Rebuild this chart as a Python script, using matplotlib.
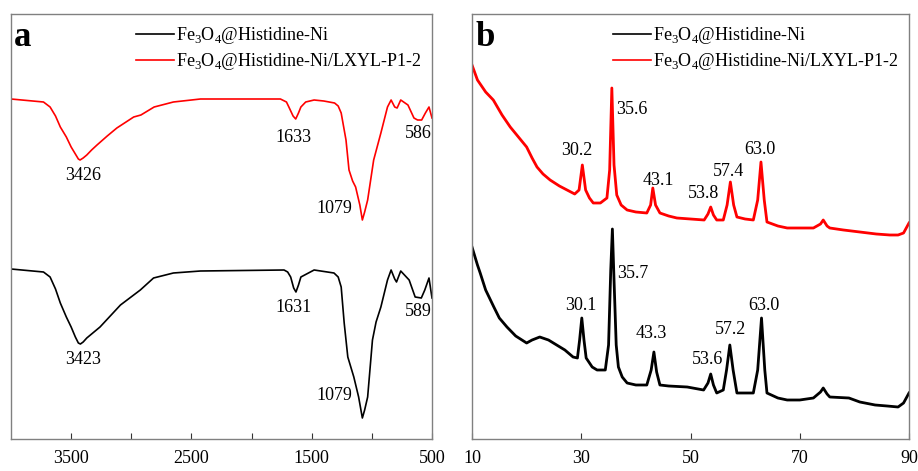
import matplotlib
matplotlib.use("Agg")
import matplotlib.pyplot as plt
from matplotlib.lines import Line2D

plt.rcParams['font.family'] = ['Liberation Serif', 'DejaVu Serif']
plt.rcParams['mathtext.fontset'] = 'custom'
plt.rcParams['mathtext.rm'] = 'Liberation Serif'

# ---------------- FTIR data (panel a) ----------------
ftir_red_wn = [4000, 3730, 3675, 3630, 3590, 3540, 3500, 3465, 3440, 3426, 3400, 3370, 3330, 3285,
               3200, 3120, 2980, 2920, 2810, 2650, 2425, 2000, 1760, 1710, 1690, 1655, 1633, 1610,
               1590, 1550, 1480, 1400, 1310, 1280, 1255, 1215, 1190, 1160, 1135, 1100, 1079, 1060,
               1035, 985, 925, 870, 840, 810, 790, 760, 700, 650, 620, 586, 555, 525, 500]
ftir_red_t = [340, 337, 332, 323, 312, 302, 292, 285, 280, 279, 281, 284, 289, 294,
              303, 311, 322, 324, 332, 337, 340, 340, 340, 337, 332, 323, 320, 326,
              332, 337, 339, 338, 336, 333, 326, 299, 269, 258, 252, 234, 219, 227,
              239, 279, 306, 332, 339, 332, 331, 339, 334, 321, 319, 319, 326, 332, 321]

ftir_blk_wn = [4000, 3730, 3675, 3630, 3590, 3540, 3500, 3465, 3440, 3423, 3400, 3370, 3340, 3260,
               3090, 2925, 2815, 2650, 2425, 1730, 1700, 1675, 1650, 1631, 1610, 1590, 1480, 1315,
               1280, 1255, 1230, 1200, 1150, 1110, 1079, 1060, 1035, 995, 965, 925, 870, 840, 810,
               795, 760, 690, 640, 589, 560, 525, 500]
ftir_blk_t = [170, 167, 162, 150, 136, 122, 112, 102, 96, 95, 97, 101, 104, 112,
              134, 149, 161, 166, 168, 169, 167, 162, 151, 147, 154, 162, 169, 166,
              162, 152, 116, 82, 62, 42, 21, 29, 42, 99, 117, 132, 159, 169, 160,
              157, 168, 159, 142, 141, 149, 161, 141]

ftir_red_labels = ["3426", "1633", "1079", "586"]
ftir_red_lab_x = [3400, 1650, 1315, 617]
ftir_red_lab_y = [264, 302, 231, 306]
ftir_blk_labels = ["3423", "1631", "1079", "589"]
ftir_blk_lab_x = [3400, 1650, 1315, 617]
ftir_blk_lab_y = [79, 132, 43, 127]

# ---------------- XRD data (panel b) ----------------
xrd_red_2t = [10.0, 11.0, 12.5, 13.9, 15.5, 17.0, 18.5, 20.0, 21.0, 21.9, 23.0, 24.3, 26.0, 27.4,
              28.8, 29.6, 30.2, 30.8, 31.5, 32.2, 33.5, 34.7, 35.2, 35.6, 36.0, 36.5, 37.3, 38.4,
              40.0, 42.0, 42.7, 43.1, 43.6, 44.4, 46.0, 47.5, 50.0, 52.5, 53.2, 53.7, 54.2, 54.8,
              56.0, 56.7, 57.3, 57.9, 58.5, 60.0, 61.5, 62.3, 62.9, 63.5, 64.0, 66.0, 67.7, 70.0,
              72.5, 73.8, 74.3, 75.0, 75.5, 78.0, 81.0, 84.0, 86.5, 88.0, 89.0, 90.0]
xrd_red_i = [374, 359, 347, 339, 324, 312, 302, 292, 281, 272, 265, 259, 253, 249,
             245, 249, 274, 249, 241, 236, 236, 241, 269, 351, 274, 244, 234, 229,
             227, 226, 234, 251, 234, 226, 223, 221, 220, 219, 225, 232, 224, 219,
             219, 234, 257, 234, 222, 220, 219, 239, 277, 239, 217, 213, 211, 211,
             211, 215, 219, 213, 211, 209, 207, 205, 204, 204, 206, 216]

xrd_blk_2t = [10.0, 11.0, 11.5, 12.5, 14.0, 15.0, 16.4, 18.0, 20.0, 21.0, 22.4, 24.0, 25.5, 27.0,
              28.5, 29.3, 29.7, 30.1, 30.5, 30.9, 32.0, 32.9, 34.4, 35.0, 35.4, 35.7, 36.0, 36.4,
              36.8, 37.5, 38.4, 40.0, 42.0, 42.8, 43.3, 43.8, 44.4, 46.0, 49.4, 52.4, 53.2, 53.7,
              54.2, 54.8, 56.0, 56.6, 57.2, 57.8, 58.5, 60.0, 61.5, 62.3, 63.0, 63.6, 64.0, 66.0,
              67.7, 70.0, 72.5, 73.8, 74.3, 75.0, 75.5, 79.0, 81.0, 83.8, 86.0, 88.0, 89.0, 90.0]
xrd_blk_i = [192, 174, 166, 149, 132, 121, 112, 103, 96, 99, 102, 99, 94, 89,
             82, 81, 99, 121, 99, 81, 72, 69, 69, 94, 169, 210, 159, 94,
             72, 62, 56, 54, 54, 69, 87, 67, 54, 53, 52, 49, 56, 65,
             54, 46, 49, 69, 94, 69, 46, 46, 46, 69, 121, 69, 46, 41,
             39, 39, 41, 47, 51, 45, 42, 41, 37, 34, 33, 32, 36, 46]

xrd_red_labels = ["30.2", "35.6", "43.1", "53.8", "57.4", "63.0"]
xrd_red_lab_x = [29.2, 39.3, 44.2, 52.3, 56.9, 62.7]
xrd_red_lab_y = [289, 330, 259, 246, 268, 290]
xrd_blk_labels = ["30.1", "35.7", "43.3", "53.6", "57.2", "63.0"]
xrd_blk_lab_x = [29.9, 39.5, 42.8, 53.2, 57.4, 63.5]
xrd_blk_lab_y = [134, 166, 105, 80, 110, 134]

legend_labels = [r"Fe$_3$O$_4$@Histidine-Ni", r"Fe$_3$O$_4$@Histidine-Ni/LXYL-P1-2"]

RED = "#ff0000"
BLK = "#000000"
FS = 13

fig = plt.figure(figsize=(9.18, 4.71), dpi=100)
axA = fig.add_axes([11 / 918, 1 - 439 / 471, (432 - 11) / 918, 425 / 471])
axB = fig.add_axes([472 / 918, 1 - 439 / 471, (909 - 472) / 918, 425 / 471])

# Panel a
axA.plot(ftir_red_wn, ftir_red_t, color=RED, lw=1.2)
axA.plot(ftir_blk_wn, ftir_blk_t, color=BLK, lw=1.2)
axA.set_xlim(4000, 500)
axA.set_ylim(0, 425)
axA.set_xticks([3500, 3000, 2500, 2000, 1500, 1000, 500])
axA.set_xticklabels(["3500", "", "2500", "", "1500", "", "500"])
for t, x, y in zip(ftir_red_labels, ftir_red_lab_x, ftir_red_lab_y):
    axA.text(x, y, t, ha='center', va='center', fontsize=FS)
for t, x, y in zip(ftir_blk_labels, ftir_blk_lab_x, ftir_blk_lab_y):
    axA.text(x, y, t, ha='center', va='center', fontsize=FS)

# Panel b
axB.plot(xrd_red_2t, xrd_red_i, color=RED, lw=2.0)
axB.plot(xrd_blk_2t, xrd_blk_i, color=BLK, lw=2.0)
axB.set_xlim(10, 90)
axB.set_ylim(0, 425)
axB.set_xticks([10, 30, 50, 70, 90])
axB.set_xticklabels(["10", "30", "50", "70", "90"])
for t, x, y in zip(xrd_red_labels, xrd_red_lab_x, xrd_red_lab_y):
    axB.text(x, y, t, ha='center', va='center', fontsize=FS)
for t, x, y in zip(xrd_blk_labels, xrd_blk_lab_x, xrd_blk_lab_y):
    axB.text(x, y, t, ha='center', va='center', fontsize=FS)

for ax, letter in [(axA, "a"), (axB, "b")]:
    ax.set_yticks([])
    for s in ax.spines.values():
        s.set_color("#808080")
        s.set_linewidth(1.0)
    ax.tick_params(axis='x', direction='in', length=4, width=0.8, color='#333333',
                   labelsize=FS, pad=8)
    ax.text(0.008, 0.945, letter, transform=ax.transAxes, fontsize=25,
            fontweight='bold', ha='left', va='center')
    handles = [Line2D([], [], color=BLK, lw=1.2), Line2D([], [], color=RED, lw=1.2)]
    ax.legend(handles, legend_labels, loc='upper right', frameon=False, fontsize=FS,
              handlelength=2.1, handletextpad=0.1, labelspacing=0.3,
              borderaxespad=0.3, borderpad=0.3)

fig.savefig("out.png", dpi=100)
